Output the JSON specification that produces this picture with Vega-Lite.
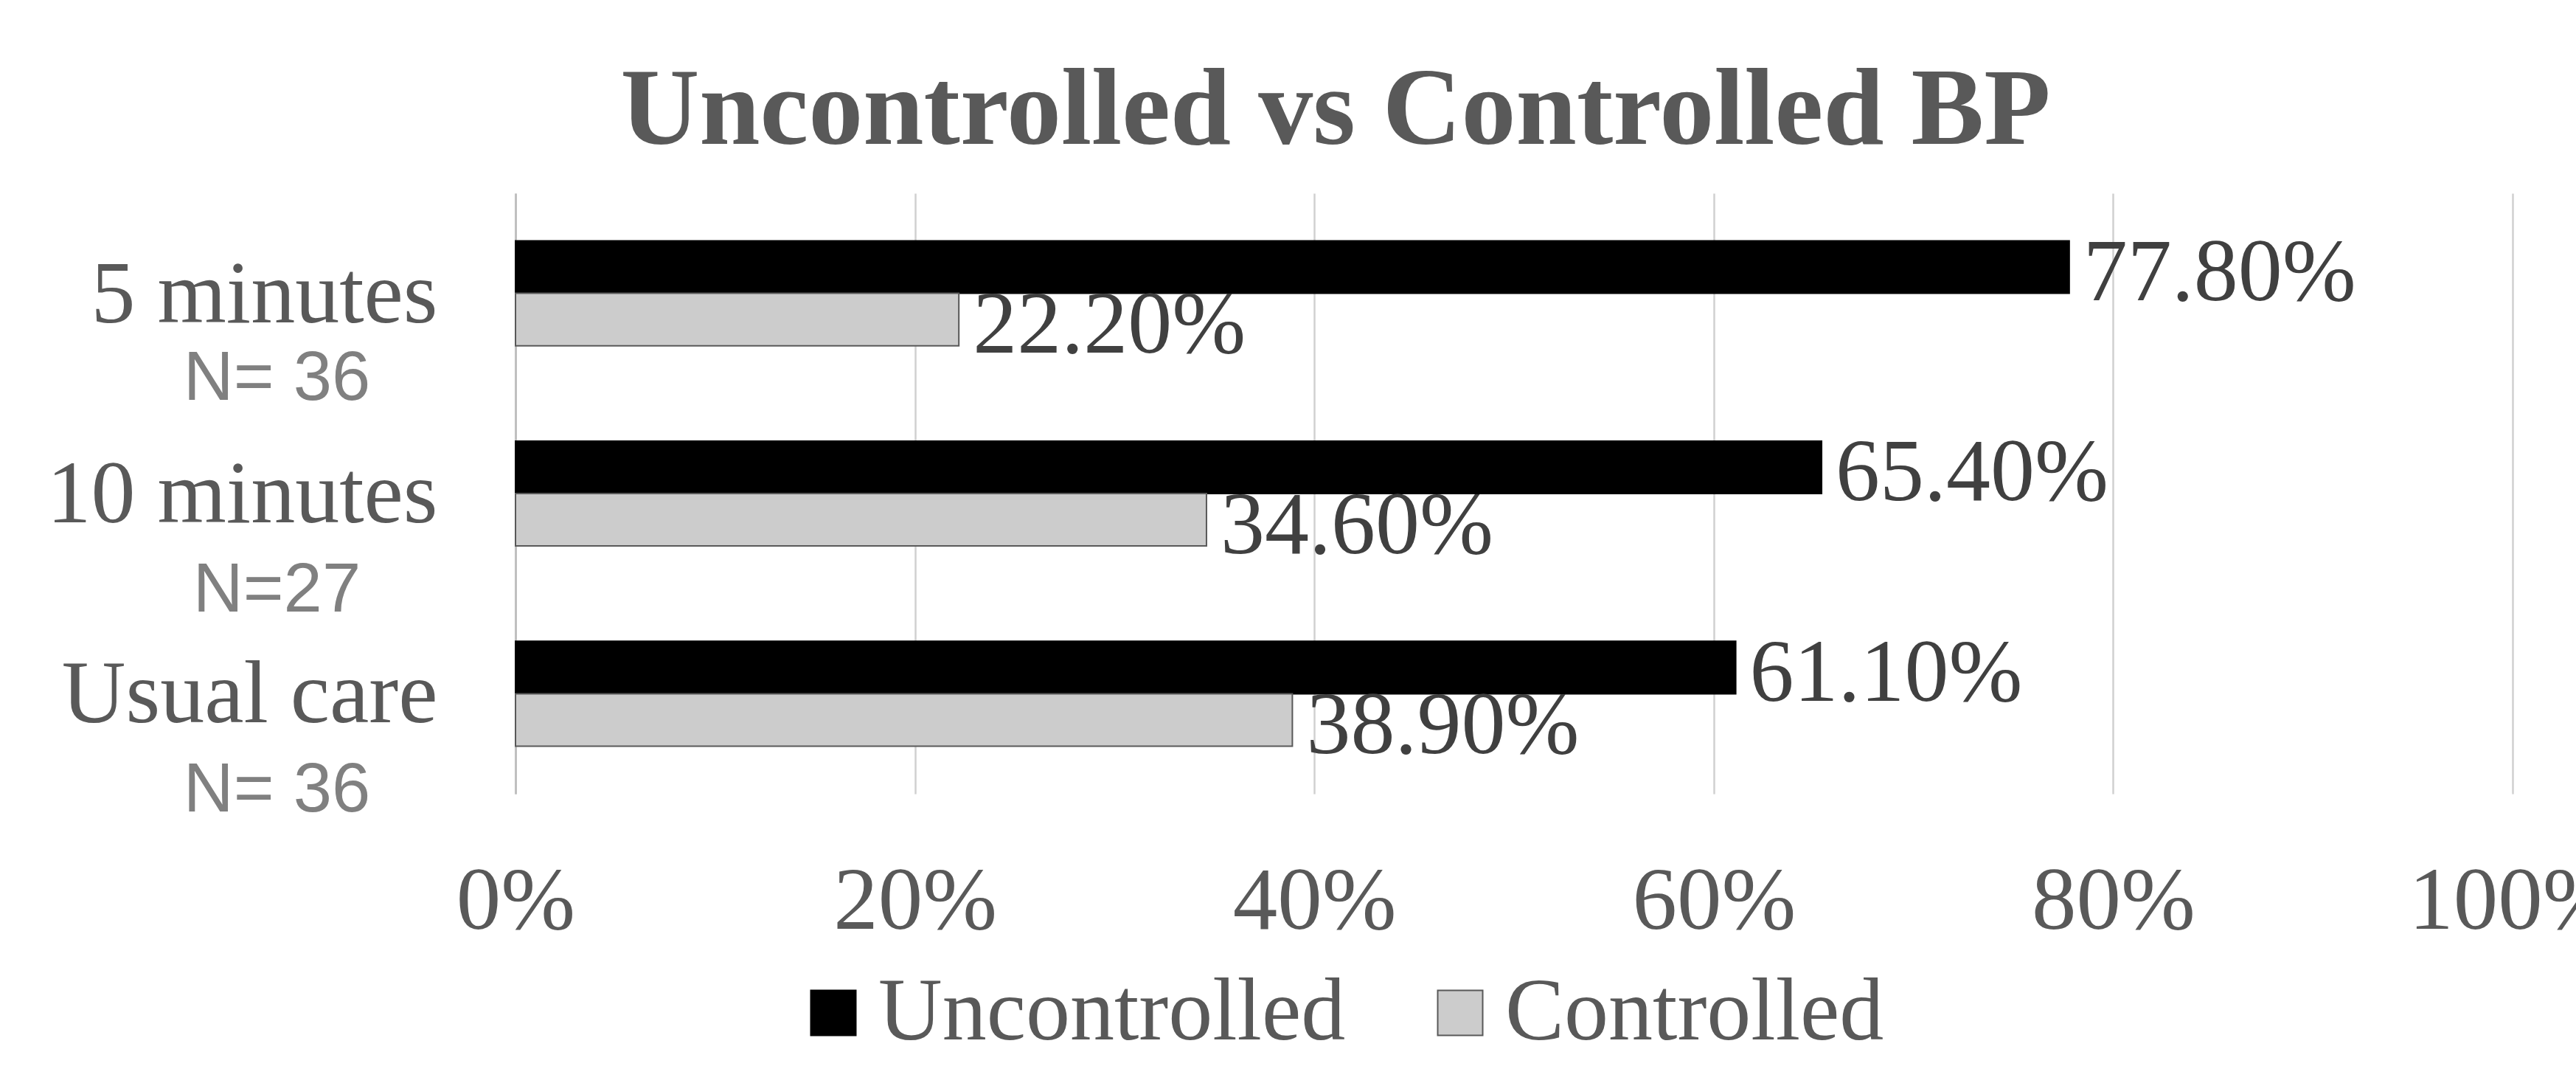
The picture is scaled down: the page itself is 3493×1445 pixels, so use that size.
{
  "$schema": "https://vega.github.io/schema/vega-lite/v6.json",
  "width": 2708,
  "height": 814,
  "autosize": {"type": "none"},
  "padding": {"left": 699, "top": 262, "right": 86, "bottom": 369},
  "background": "#ffffff",
  "config": {"view": {"stroke": null}},
  "title": {
    "text": "Uncontrolled vs Controlled BP",
    "font": "Liberation Serif",
    "fontWeight": "bold",
    "fontSize": 148,
    "color": "#595959",
    "anchor": "middle",
    "frame": "group",
    "dx": -242,
    "baseline": "alphabetic",
    "offset": -81
  },
  "data": {
    "values": [
      {"group": "5 minutes", "status": "Uncontrolled", "value": 0.778},
      {"group": "5 minutes", "status": "Controlled", "value": 0.222},
      {"group": "10 minutes", "status": "Uncontrolled", "value": 0.654},
      {"group": "10 minutes", "status": "Controlled", "value": 0.346},
      {"group": "Usual care", "status": "Uncontrolled", "value": 0.611},
      {"group": "Usual care", "status": "Controlled", "value": 0.389}
    ]
  },
  "resolve": {"scale": {"y": "independent"}},
  "layer": [
    {
      "mark": {"type": "bar", "strokeWidth": 2},
      "encoding": {
        "y": {
          "field": "group", "type": "nominal",
          "sort": ["5 minutes", "10 minutes", "Usual care"],
          "scale": {"paddingInner": 0.4765, "paddingOuter": 0.238},
          "axis": {
            "title": null,
            "orient": "left",
            "ticks": false,
            "grid": false,
            "domain": true,
            "domainColor": "#c0c0c0",
            "domainWidth": 3,
            "labelFont": "Liberation Serif",
            "labelFontSize": 120,
            "labelColor": "#595959",
            "labelAlign": "right",
            "labelBaseline": "alphabetic",
            "labelOffset": 39,
            "labelPadding": 106,
            "labelLimit": 2000,
            "labelOverlap": false
          }
        },
        "yOffset": {"field": "status", "type": "nominal", "sort": ["Uncontrolled", "Controlled"]},
        "x": {
          "field": "value", "type": "quantitative",
          "scale": {"domain": [0, 1], "nice": false},
          "axis": {
            "title": null,
            "values": [0, 0.2, 0.4, 0.6, 0.8, 1],
            "format": ".0%",
            "ticks": false,
            "domain": false,
            "grid": true,
            "gridColor": "#d0d0d0",
            "gridWidth": 2.5,
            "labelFont": "Liberation Serif",
            "labelFontSize": 121,
            "labelColor": "#595959",
            "labelBaseline": "alphabetic",
            "labelPadding": 182,
            "labelFlush": false,
            "labelOverlap": false,
            "labelLimit": 2000
          }
        },
        "fill": {
          "field": "status", "type": "nominal",
          "sort": ["Uncontrolled", "Controlled"],
          "scale": {"domain": ["Uncontrolled", "Controlled"], "range": ["#000000", "#cccccc"]},
          "legend": {
            "title": null,
            "orient": "none",
            "direction": "horizontal",
            "legendX": 371,
            "legendY": 1051,
            "padding": 0,
            "symbolType": "square",
            "symbolSize": 3721,
            "symbolStrokeWidth": 2,
            "labelFont": "Liberation Serif",
            "labelFontSize": 120,
            "labelColor": "#595959",
            "labelOffset": 1,
            "columnPadding": 95,
            "labelLimit": 2000
          }
        },
        "stroke": {
          "field": "status", "type": "nominal",
          "sort": ["Uncontrolled", "Controlled"],
          "scale": {"domain": ["Uncontrolled", "Controlled"], "range": ["#000000", "#595959"]},
          "legend": {
            "title": null,
            "orient": "none",
            "direction": "horizontal",
            "legendX": 371,
            "legendY": 1051,
            "padding": 0,
            "symbolType": "square",
            "symbolSize": 3721,
            "symbolStrokeWidth": 2,
            "labelFont": "Liberation Serif",
            "labelFontSize": 120,
            "labelColor": "#595959",
            "labelOffset": 1,
            "columnPadding": 95,
            "labelLimit": 2000
          }
        }
      }
    },
    {
      "mark": {
        "type": "text",
        "align": "left",
        "baseline": "alphabetic",
        "dx": 19,
        "dy": 45,
        "font": "Liberation Serif",
        "fontSize": 120,
        "color": "#404040"
      },
      "encoding": {
        "y": {
          "field": "group", "type": "nominal",
          "sort": ["5 minutes", "10 minutes", "Usual care"],
          "scale": {"paddingInner": 0.4765, "paddingOuter": 0.238},
          "axis": {
            "title": null,
            "orient": "left",
            "ticks": false,
            "grid": false,
            "domain": false,
            "labelExpr": "datum.value === '10 minutes' ? 'N=27' : 'N= 36'",
            "labelFont": "Liberation Sans",
            "labelFontSize": 94,
            "labelColor": "#808080",
            "labelAlign": "center",
            "labelBaseline": "alphabetic",
            "labelOffset": {"condition": {"test": "datum.value === '5 minutes'", "value": 144}, "value": 160},
            "labelPadding": 324,
            "labelLimit": 2000,
            "labelOverlap": false
          }
        },
        "yOffset": {"field": "status", "type": "nominal", "sort": ["Uncontrolled", "Controlled"]},
        "x": {
          "field": "value", "type": "quantitative",
          "scale": {"domain": [0, 1], "nice": false}
        },
        "text": {"field": "value", "type": "quantitative", "format": ".2%"}
      }
    }
  ]
}
